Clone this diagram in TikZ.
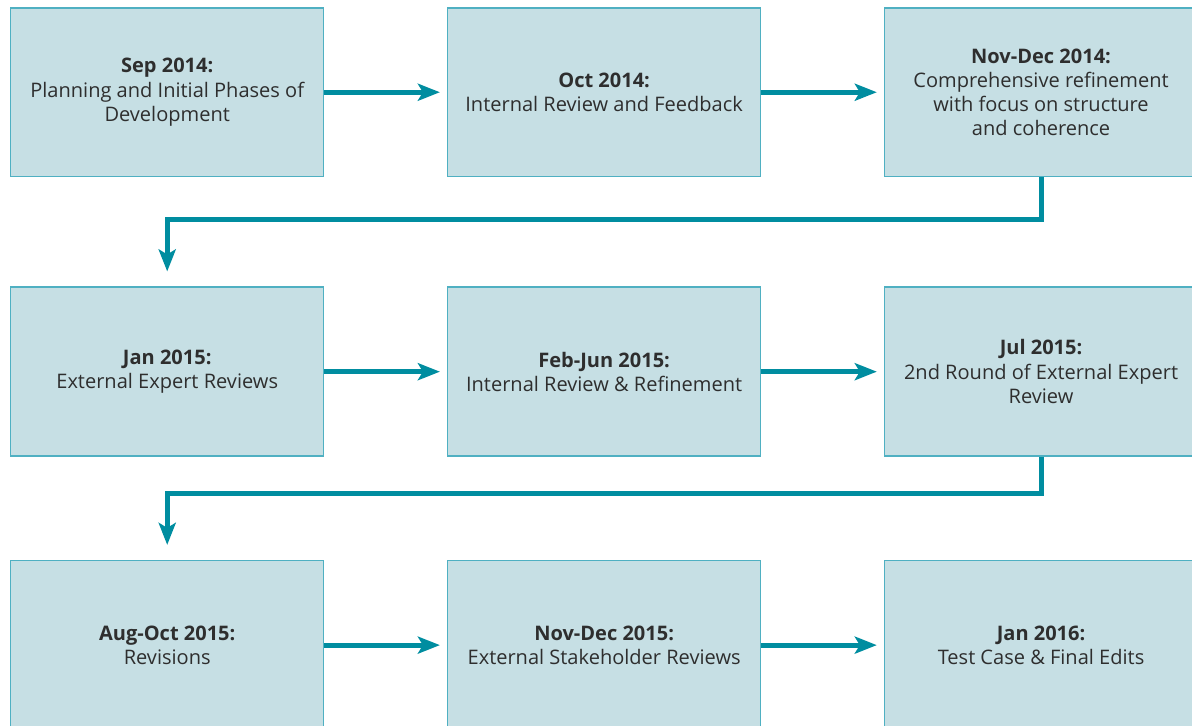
\documentclass[tikz,border=0pt]{standalone}
\usepackage{fontspec}
\setmainfont{Open Sans}
\usepackage{tikz}
\usetikzlibrary{calc,positioning,arrows.meta}
\usepackage{xcolor}
\definecolor{boxfill}{HTML}{C6DFE4}
\definecolor{boxline}{HTML}{4FB0C2}
\definecolor{teal4}{HTML}{008DA0}
\definecolor{textgray}{HTML}{2E2E2E}

\begin{document}
\begin{tikzpicture}[
        x=0.02cm, y=-0.02cm,
        node distance=2.18cm and 2.45cm,
        tstyle/.style={draw=boxline, line width=0.85pt, fill=boxfill, text=textgray,
          minimum width=6.26cm, minimum height=3.38cm, align=center,
          font=\fontsize{11.4}{13.8}\selectfont, inner sep=0pt},
        pathstyle/.style={draw=teal4, line width=2.85pt,
          -{Stealth[length=0.44cm, width=0.34cm, inset=0.1cm]}}
      ]
        \useasboundingbox (0,0) rectangle (1192,725);
        \node[tstyle, anchor=north west] (SEP14)
          at (10,7) {\textbf{Sep 2014:}\\Planning and Initial Phases of\\Development};
        \node[tstyle, right=of SEP14] (OCT14)
          {\textbf{Oct 2014:}\\Internal Review and Feedback};
        \node[tstyle, right=of OCT14] (NOVDEC14)
          {\textbf{Nov-Dec 2014:}\\Comprehensive refinement\\with focus on structure\\and coherence};
        \node[tstyle, below=of SEP14] (JAN15)
          {\textbf{Jan 2015:}\\External Expert Reviews};
        \node[tstyle, right=of JAN15] (FEBJUN15)
          {\textbf{Feb-Jun 2015:}\\Internal Review \& Refinement};
        \node[tstyle, right=of FEBJUN15] (JUL15)
          {\textbf{Jul 2015:}\\2nd Round of External Expert\\Review};
        \node[tstyle, below=2.06cm of JAN15] (AUGOCT15)
          {\textbf{Aug-Oct 2015:}\\Revisions};
        \node[tstyle, right=of AUGOCT15] (NOVDEC15)
          {\textbf{Nov-Dec 2015:}\\External Stakeholder Reviews};
        \node[tstyle, right=of NOVDEC15] (JAN16)
          {\textbf{Jan 2016:}\\Test Case \& Final Edits};

        % left to right along each row
        \draw[pathstyle, shorten >=0.14cm] (SEP14) -- (OCT14);
        \draw[pathstyle, shorten >=0.14cm] (OCT14) -- (NOVDEC14);
        \draw[pathstyle, shorten >=0.14cm] (JAN15) -- (FEBJUN15);
        \draw[pathstyle, shorten >=0.14cm] (FEBJUN15) -- (JUL15);
        \draw[pathstyle, shorten >=0.14cm] (AUGOCT15) -- (NOVDEC15);
        \draw[pathstyle, shorten >=0.14cm] (NOVDEC15) -- (JAN16);

        % back to the start of the next row
        \draw[pathstyle, shorten >=0.3cm] (NOVDEC14.south) |- ($(NOVDEC14.south)!0.39!(JAN15.north)$) -| (JAN15.north);
        \draw[pathstyle, shorten >=0.3cm] (JUL15.south) |- ($(JUL15.south)!0.36!(AUGOCT15.north)$) -| (AUGOCT15.north);
      \end{tikzpicture}
\end{document}
